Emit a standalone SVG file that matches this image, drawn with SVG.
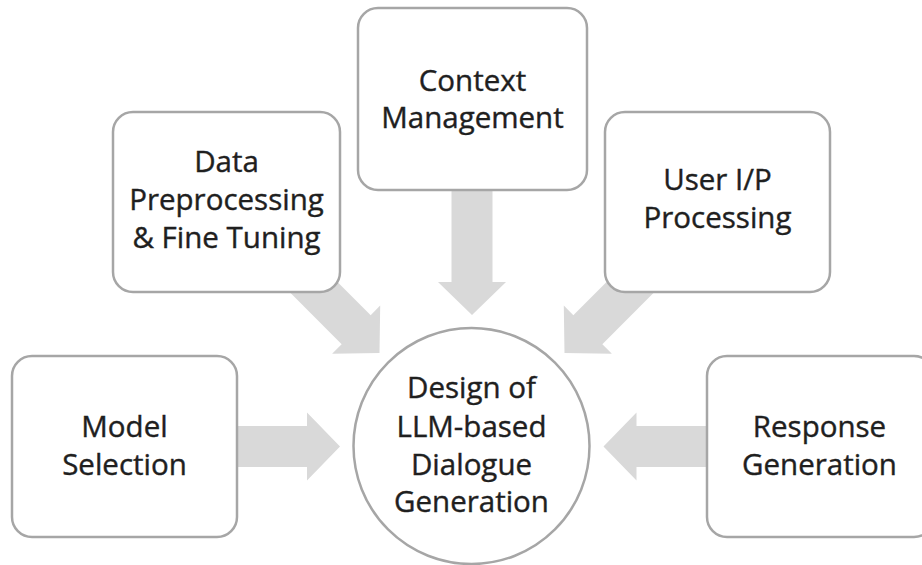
<svg xmlns="http://www.w3.org/2000/svg" width="922" height="565" viewBox="0 0 922 565">
  <defs>
    <!-- block arrow pointing along +x, tip at origin -->
    <path id="blockArrow" d="M0,0 L-33,-34 L-33,-20.5 L-125,-20.5 L-125,20.5 L-33,20.5 L-33,34 Z"/>
  </defs>
  <style>
    .box { fill: #ffffff; stroke: #a6a6a6; stroke-width: 2.5; }
    .arrow { fill: #d9d9d9; stroke: none; }
    .label { font-family: "Open Sans", "Noto Sans", sans-serif; font-size: 29.5px; fill: #1f1f1f; stroke: #1f1f1f; stroke-width: 0.4; text-anchor: middle; }
  </style>
  <rect width="922" height="565" fill="#ffffff"/>

  <!-- connectors: grey block arrows into the hub -->
  <g id="connectors">
    <use href="#blockArrow" class="arrow" transform="translate(340,446.5)"/>
    <use href="#blockArrow" class="arrow" transform="translate(379.5,353) rotate(45)"/>
    <use href="#blockArrow" class="arrow" transform="translate(472,315) rotate(90)"/>
    <use href="#blockArrow" class="arrow" transform="translate(564.5,353) rotate(135)"/>
    <use href="#blockArrow" class="arrow" transform="translate(603.5,446.5) rotate(180)"/>
  </g>

  <g id="model-selection">
    <rect class="box" x="12" y="356" width="225" height="181" rx="20"/>
    <text class="label" x="124.5" y="437">Model</text>
    <text class="label" x="124.5" y="475">Selection</text>
  </g>

  <g id="data-preprocessing">
    <rect class="box" x="113" y="112" width="227" height="180" rx="20"/>
    <text class="label" x="226.5" y="172">Data</text>
    <text class="label" x="226.5" y="210">Preprocessing</text>
    <text class="label" x="226.5" y="248">&amp; Fine Tuning</text>
  </g>

  <g id="context-management">
    <rect class="box" x="358" y="8" width="229" height="182" rx="20"/>
    <text class="label" x="472.5" y="91">Context</text>
    <text class="label" x="472.5" y="128">Management</text>
  </g>

  <g id="user-input-processing">
    <rect class="box" x="605" y="112" width="225" height="180" rx="20"/>
    <text class="label" x="717.5" y="190">User I/P</text>
    <text class="label" x="717.5" y="228">Processing</text>
  </g>

  <g id="response-generation">
    <rect class="box" x="707" y="356" width="227" height="181" rx="20"/>
    <text class="label" x="819.5" y="437">Response</text>
    <text class="label" x="819.5" y="475">Generation</text>
  </g>

  <g id="dialogue-design">
    <circle class="box" cx="471.5" cy="446" r="118"/>
    <text class="label" x="471.5" y="398">Design of</text>
    <text class="label" x="471.5" y="437">LLM-based</text>
    <text class="label" x="471.5" y="475">Dialogue</text>
    <text class="label" x="471.5" y="512">Generation</text>
  </g>
</svg>
